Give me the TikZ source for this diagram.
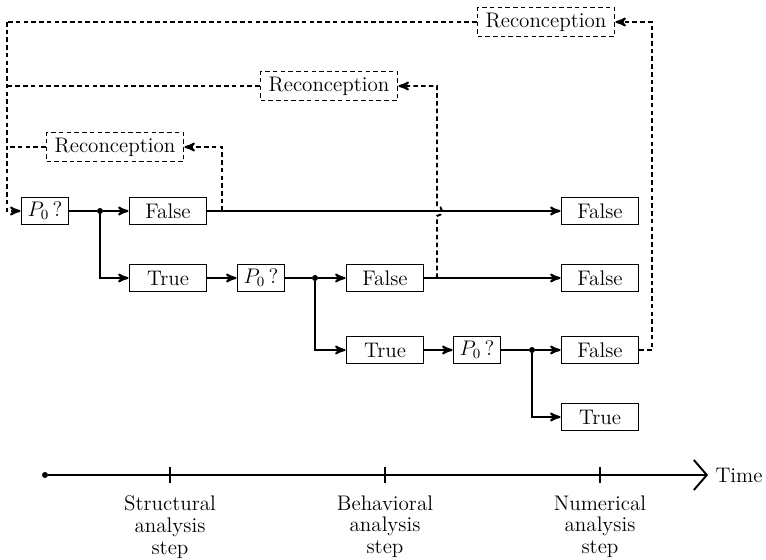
\documentclass[tikz,border=0pt,12pt]{standalone}
\usepackage{amsmath}
\usepackage{amssymb}
\usepackage{tikz}
\usetikzlibrary{arrows,arrows.meta,positioning}

\tikzset{
  trait/.style={line width=1.1pt},
  tirets/.style={trait, dash pattern=on 2.6pt off 1.8pt},
  boite/.style={draw, trait, minimum height=0.54cm, inner sep=2pt},
  test/.style={boite, minimum width=0.94cm},
  issue/.style={boite, minimum width=1.54cm},
  reconc/.style={draw, tirets, minimum width=2.74cm, minimum height=0.58cm, inner sep=2pt},
  point/.style={circle, fill, inner sep=0pt, minimum size=0.12cm},
  flux/.style={->, trait},
  retour/.style={->, tirets},
}

\begin{document}
\begin{tikzpicture}[x=0.02cm, y=-0.02cm, >=stealth']
\useasboundingbox (0,0) rectangle (766,559);
% tests et issues
\node [test] (test1) at (45,211) {$P_0\,?$};
\node [point] (pt1) at (100,211) {};
\node [issue] (faux1) at (168,211) {False};
\node [issue] (vrai1) at (168,278) {True};
\node [test] (test2) at (261,278) {$P_0\,?$};
\node [point] (pt2) at (315,278) {};
\node [issue] (faux2) at (385,278) {False};
\node [issue] (vrai2) at (385,350) {True};
\node [test] (test3) at (477,350) {$P_0\,?$};
\node [point] (pt3) at (532,350) {};
\node [issue] (faux3) at (600,350) {False};
\node [issue] (vrai3) at (600,417) {True};
\node [issue] (fin1) at (600,211) {False};
\node [issue] (fin2) at (600,278) {False};
% reconceptions
\node [reconc] (reconc1) at (115,147) {Reconception};
\node [reconc] (reconc2) at (329,86) {Reconception};
\node [reconc] (reconc3) at (546,22) {Reconception};

\draw[trait] (test1) -- (pt1);
\draw[flux] (pt1) -- (faux1);
\draw[flux] (pt1) |- (vrai1);
\draw[flux] (faux1) -- (fin1);
\draw[flux] (vrai1) -- (test2);
\draw[trait] (test2) -- (pt2);
\draw[flux] (pt2) -- (faux2);
\draw[flux] (pt2) |- (vrai2);
\draw[flux] (faux2) -- (fin2);
\draw[flux] (vrai2) -- (test3);
\draw[trait] (test3) -- (pt3);
\draw[flux] (pt3) -- (faux3);
\draw[flux] (pt3) |- (vrai3);

% retours
\coordinate (gauche) at (7,22);
\coordinate (dep1) at (222,211);
\coordinate (dep2) at (437,278);
\coordinate (dep3) at (652,350);
\draw[retour] (dep1) |- (reconc1);
\draw[retour] (dep2) -- (437,216) arc[start angle=-90, end angle=90, radius=0.1cm] |- (reconc2);
\draw[retour] (faux3.east) -- (dep3) |- (reconc3);
\draw[tirets] (reconc1) -- (reconc1 -| gauche);
\draw[tirets] (reconc2) -- (reconc2 -| gauche);
\draw[tirets] (reconc3) -- (gauche);
\draw[retour] (gauche) |- (test1);

% axe du temps
\node [point] (t0) at (45,475) {};
\node (temps) at (739,475) {Time};
\draw[trait, -{Straight Barb[length=2.6mm, width=6mm]}] (t0) -- (temps);
\foreach \x/\nom in {170/Structural, 385/Behavioral, 600/Numerical} {
  \draw[trait] (\x,467) -- (\x,483);
  \node [below, align=center] (etape\x) at (\x,488) {\nom\\[-2pt]analysis\\[-2pt]step};
}
\end{tikzpicture}
\end{document}
